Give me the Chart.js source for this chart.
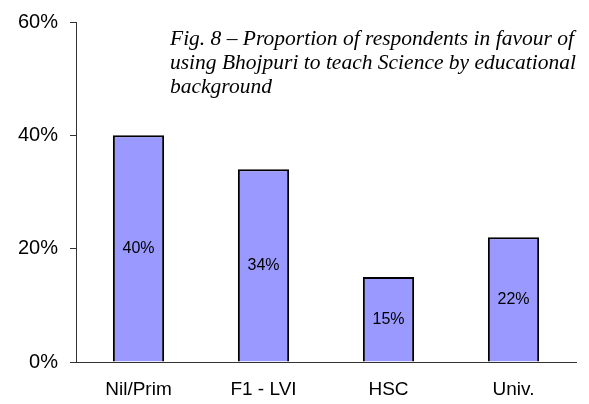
<!DOCTYPE html>
<html>
<head>
<meta charset="utf-8">
<script src="https://cdn.jsdelivr.net/npm/chart.js@4/dist/chart.umd.min.js"></script>
<style>
  html, body { margin: 0; padding: 0; background: #fff; }
  #wrap { width: 589px; height: 404px; }
</style>
</head>
<body>
<div id="wrap"><canvas id="chart" width="589" height="404"></canvas></div>
<script>
// Data
const categories = ["Nil/Prim", "F1 - LVI", "HSC", "Univ."];
const values = [40, 34, 15, 22];
const yTicks = [0, 20, 40, 60];
const titleLines = [
  "Fig. 8 \u2013 Proportion of respondents in favour of",
  "using Bhojpuri to teach Science by educational",
  "background"
];

// Values written in the middle of each bar
const barLabels = {
  id: "barLabels",
  afterDatasetsDraw(chart) {
    const ctx = chart.ctx;
    const meta = chart.getDatasetMeta(0);
    ctx.save();
    ctx.font = "16px 'Liberation Sans', Arial, sans-serif";
    ctx.fillStyle = "#000";
    ctx.textAlign = "center";
    ctx.textBaseline = "middle";
    meta.data.forEach((bar, i) => {
      const mid = (bar.y + bar.base) / 2;
      ctx.fillText(values[i] + "%", bar.x, mid);
    });
    ctx.restore();
  }
};

// Italic caption in the top right corner
const caption = {
  id: "caption",
  afterDraw(chart) {
    const ctx = chart.ctx;
    ctx.save();
    ctx.font = "italic 21.5px 'Liberation Serif', 'Times New Roman', serif";
    ctx.fillStyle = "#000";
    ctx.textAlign = "left";
    ctx.textBaseline = "middle";
    titleLines.forEach((t, i) => ctx.fillText(t, 170, 39 + i * 24));
    ctx.restore();
  }
};

new Chart(document.getElementById("chart"), {
  type: "bar",
  data: {
    labels: categories,
    datasets: [{
      data: values,
      backgroundColor: "#9999FF",
      borderColor: "#000",
      borderWidth: 2,
      barPercentage: 0.41,
      categoryPercentage: 1
    }]
  },
  options: {
    responsive: false,
    animation: false,
    layout: { padding: { top: 20, right: 13, left: 0, bottom: 0 } },
    plugins: {
      legend: { display: false },
      tooltip: { enabled: false }
    },
    scales: {
      x: {
        grid: { display: false, drawTicks: false },
        border: { display: true, color: "#333", width: 1 },
        ticks: {
          color: "#000",
          padding: 16,
          font: { family: "'Liberation Sans', Arial, sans-serif", size: 19 }
        },
        afterFit: (s) => { s.height = 42; }
      },
      y: {
        min: 0,
        max: 60,
        afterBuildTicks: (s) => { s.ticks = yTicks.map(v => ({ value: v })); },
        grid: { drawOnChartArea: false, drawTicks: true, tickLength: 6, color: "#333" },
        border: { display: true, color: "#333", width: 1 },
        ticks: {
          color: "#000",
          padding: 12,
          font: { family: "'Liberation Sans', Arial, sans-serif", size: 20, lineHeight: 1 },
          callback: (v) => v + "%"
        },
        afterFit: (s) => { s.width = 76; }
      }
    }
  },
  plugins: [barLabels, caption]
});
</script>
</body>
</html>
